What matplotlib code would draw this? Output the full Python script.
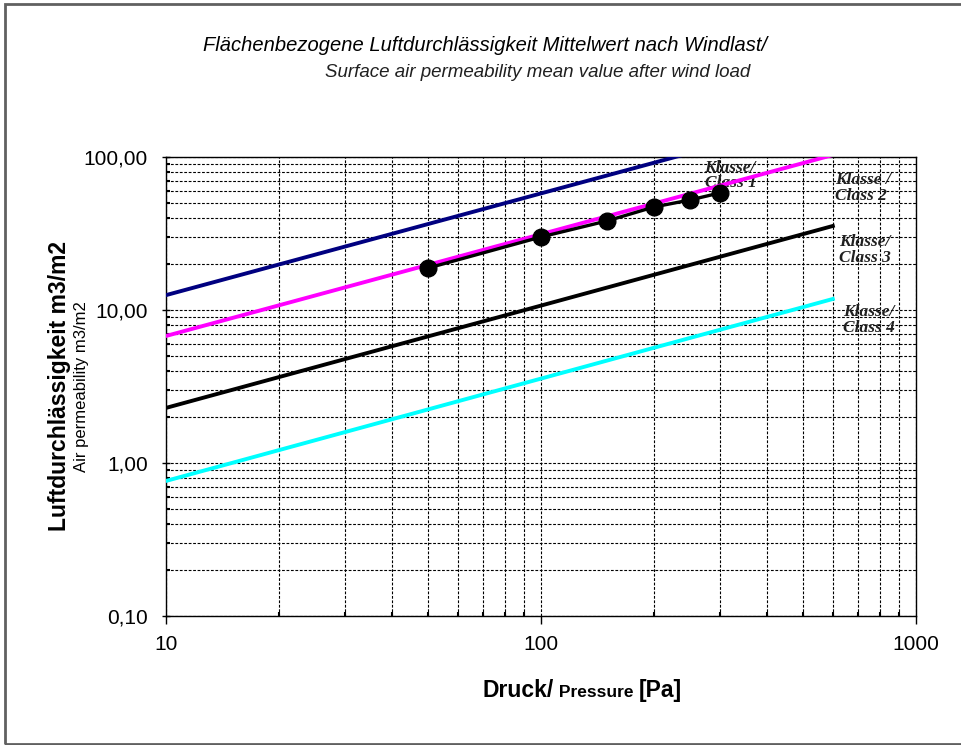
import matplotlib.pyplot as plt
from matplotlib.ticker import LogLocator, FixedLocator, NullFormatter
from matplotlib.patches import Rectangle

# class limit lines (end points)
class1_x = [10, 300]
class1_y = [12.5, 120.0]
class2_x = [10, 600]
class2_y = [6.76, 103.0]
class3_x = [10, 600]
class3_y = [2.29, 35.4]
class4_x = [10, 600]
class4_y = [0.763, 11.8]

# measured mean values
meas_x = [50, 100, 150, 200, 250, 300]
meas_y = [18.8, 30.0, 38.2, 47.1, 52.4, 58.2]

y_ticks = [0.1, 1, 10, 100]
y_ticklabels = ['0,10', '1,00', '10,00', '100,00']
x_ticks = [10, 100, 1000]
x_ticklabels = ['10', '100', '1000']

plt.rcParams['font.family'] = ['Liberation Sans', 'DejaVu Sans']

fig = plt.figure(figsize=(9.61, 7.45), dpi=100)
ax = fig.add_axes([0.1727, 0.1732, 0.9532 - 0.1727, 0.7893 - 0.1732])

# figure frame
fig.patches.append(Rectangle((5 / 961, 1 / 745), 1.0, 740 / 745, transform=fig.transFigure,
                             fill=False, edgecolor='#606060', lw=2.0))

ax.set_xscale('log')
ax.set_yscale('log')
ax.set_xlim(10, 1000)
ax.set_ylim(0.1, 100)

ax.xaxis.set_major_locator(FixedLocator(x_ticks))
ax.set_xticklabels(x_ticklabels)
ax.yaxis.set_major_locator(FixedLocator(y_ticks))
ax.set_yticklabels(y_ticklabels)
ax.xaxis.set_minor_locator(LogLocator(base=10, subs=range(2, 10)))
ax.yaxis.set_minor_locator(LogLocator(base=10, subs=range(2, 10)))
ax.xaxis.set_minor_formatter(NullFormatter())
ax.yaxis.set_minor_formatter(NullFormatter())

ax.grid(True, which='both', color='black', linestyle=(0, (2.5, 1.5)), lw=0.8)
ax.set_axisbelow(True)
ax.tick_params(which='major', length=6, width=1, labelsize=15, direction='inout')
ax.tick_params(axis='x', which='major', direction='out', pad=8)
ax.tick_params(axis='y', which='major', pad=10)
ax.tick_params(which='minor', length=3, width=1.5, direction='in')
for s in ax.spines.values():
    s.set_linewidth(1.0)

ax.plot(class1_x, class1_y, color='#000080', lw=2.8, zorder=3)
ax.plot(class2_x, class2_y, color='#ff00ff', lw=2.8, zorder=3)
ax.plot(class3_x, class3_y, color='black', lw=2.8, zorder=3)
ax.plot(class4_x, class4_y, color='#00ffff', lw=2.8, zorder=3)

lbl = dict(family=['Liberation Serif', 'DejaVu Serif'], style='italic', fontweight='bold',
           fontsize=12.5, color='#202020', linespacing=0.95, va='center', ha='left', zorder=2)
ax.text(273, 76, 'Klasse/\nClass 1', **lbl)
ax.text(608, 62.7, 'Klasse /\nClass 2', **lbl)
ax.text(622, 24.7, 'Klasse/\nClass 3', **lbl)
ax.text(639, 8.6, 'Klasse/\nClass 4', **lbl)

ax.plot(meas_x, meas_y, color='black', lw=2.4, marker='o', markersize=12, zorder=4)

fig.text(0.505, 0.939, 'Flächenbezogene Luftdurchlässigkeit Mittelwert nach Windlast/',
         ha='center', va='center', style='italic', fontsize=14.5)
fig.text(0.559, 0.903, 'Surface air permeability mean value after wind load',
         ha='center', va='center', style='italic', fontsize=13.5, color='#202020')

fig.text(0.062, 0.482, 'Luftdurchlässigkeit m3/m2', rotation=90, ha='center', va='center',
         fontsize=16.5, fontweight='bold')
fig.text(0.085, 0.481, 'Air permeability m3/m2', rotation=90, ha='center', va='center',
         fontsize=12)

# x label in three parts, baseline aligned
base_y = 1 - 697 / 745
t1 = fig.text(483 / 961, base_y, 'Druck/', ha='left', va='baseline', fontsize=16.5,
              fontweight='bold')
fig.canvas.draw()
r = fig.canvas.get_renderer()
x2 = t1.get_window_extent(r).x1 / fig.bbox.width
t2 = fig.text(x2, base_y, ' Pressure ', ha='left', va='baseline', fontsize=12.5,
              fontweight='bold')
x3 = t2.get_window_extent(r).x1 / fig.bbox.width
fig.text(x3, base_y, '[Pa]', ha='left', va='baseline', fontsize=16.5, fontweight='bold')

fig.savefig('out.png', dpi=100)
